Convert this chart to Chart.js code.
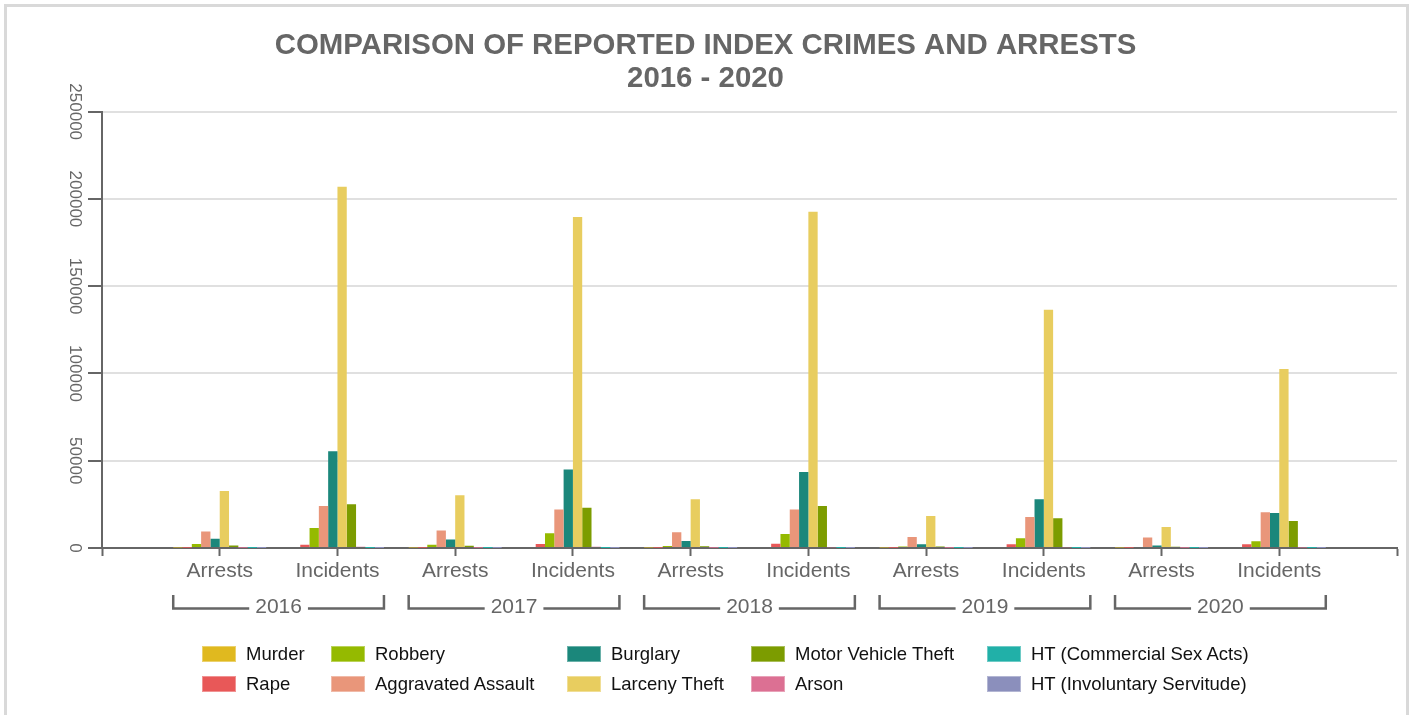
<!DOCTYPE html>
<html>
<head>
<meta charset="utf-8">
<script src="https://cdn.jsdelivr.net/npm/chart.js@4.4.1/dist/chart.umd.min.js"></script>
<style>
  html, body { margin: 0; padding: 0; background: #fff; overflow: hidden; }
  #wrap { position: relative; width: 1411px; height: 715px; }
  #frame { position: absolute; left: 4px; top: 4px; width: 1399px; height: 760px; border: 3px solid #d9d9d9; }
  #chart { position: absolute; left: 0; top: 0; display: block; }
  #legend {
    position: absolute; left: 202px; top: 646px;
    display: grid; grid-auto-flow: column;
    grid-template-rows: 16px 16px; row-gap: 14px;
    grid-template-columns: 129px 236px 184px 236px auto;
    font-family: "Liberation Sans", Arial, sans-serif; font-size: 18.5px; color: #111;
  }
  #legend .item { display: flex; align-items: center; white-space: nowrap; line-height: 16px; }
  #legend .box { width: 34px; height: 16px; margin-right: 10px; flex: none; box-sizing: border-box; border: 1px solid rgba(255,255,255,0.35); }
</style>
</head>
<body>
<div id="wrap">
  <div id="frame"></div>
  <canvas id="chart" width="1411" height="715"></canvas>
  <div id="legend"></div>
</div>
<script>
// categories: each year has an Arrests and an Incidents bar group
const years = ["2016", "2017", "2018", "2019", "2020"];
const kinds = ["Arrests", "Incidents"];
const yTicks = [0, 50000, 100000, 150000, 200000, 250000];

// values per crime, order: 2016 A, 2016 I, 2017 A, 2017 I, ... 2020 A, 2020 I
const murder     = [300, 600, 300, 600, 300, 600, 250, 550, 250, 600];
const rape       = [200, 1900, 200, 2300, 200, 2400, 150, 2100, 150, 2200];
const robbery    = [2300, 11500, 1900, 8500, 1200, 8000, 900, 5600, 600, 3800];
const aggAssault = [9500, 24000, 10000, 22000, 9000, 22000, 6300, 17800, 6000, 20500];
const burglary   = [5300, 55500, 4800, 45000, 4000, 43500, 2100, 28000, 1500, 20000];
const larceny    = [32700, 207000, 30200, 189700, 28000, 192600, 18300, 136500, 12000, 102500];
const mvTheft    = [1500, 25000, 1300, 23000, 1000, 24000, 800, 17000, 700, 15500];
const arson      = [100, 700, 100, 700, 100, 400, 80, 400, 80, 300];
const htSex      = [20, 40, 20, 40, 20, 40, 20, 40, 20, 40];
const htServ     = [5, 10, 5, 10, 5, 10, 5, 10, 5, 10];

const series = [
  { name: "Murder", values: murder, color: "#e0b91f" },
  { name: "Rape", values: rape, color: "#e85858" },
  { name: "Robbery", values: robbery, color: "#95ba00" },
  { name: "Aggravated Assault", values: aggAssault, color: "#e9967a" },
  { name: "Burglary", values: burglary, color: "#1b877b" },
  { name: "Larceny Theft", values: larceny, color: "#e8cd5f" },
  { name: "Motor Vehicle Theft", values: mvTheft, color: "#7c9c00" },
  { name: "Arson", values: arson, color: "#dc7093" },
  { name: "HT (Commercial Sex Acts)", values: htSex, color: "#21b0a8" },
  { name: "HT (Involuntary Servitude)", values: htServ, color: "#8b8fbc" }
];

// empty slot at each end, like the original axis
const labels = [""];
years.forEach(() => kinds.forEach(k => labels.push(k)));
labels.push("");

const CAT_PCT = 0.79;
const FONT = '"Liberation Sans", Arial, sans-serif';

// rotated y tick labels (read top to bottom)
const yLabelPlugin = {
  id: "yLabels",
  afterDraw(chart) {
    const ctx = chart.ctx;
    const y = chart.scales.y;
    ctx.save();
    ctx.fillStyle = "#666";
    ctx.font = "17px " + FONT;
    ctx.textAlign = "center";
    ctx.textBaseline = "middle";
    yTicks.forEach(v => {
      const py = y.getPixelForValue(v);
      ctx.save();
      ctx.translate(75, py);
      ctx.rotate(Math.PI / 2);
      ctx.fillText(String(v), 0, 0);
      ctx.restore();
    });
    ctx.restore();
  }
};

// year row with brackets under each Arrests/Incidents pair
const yearPlugin = {
  id: "yearBrackets",
  afterDraw(chart) {
    const ctx = chart.ctx;
    const x = chart.scales.x;
    const base = chart.chartArea.bottom;
    const step = x.getPixelForValue(2) - x.getPixelForValue(1);
    const half = step * CAT_PCT / 2;
    const top = base + 47, lineY = base + 60.5, textY = base + 59;
    ctx.save();
    ctx.font = "21px " + FONT;
    ctx.fillStyle = "#666";
    ctx.strokeStyle = "#666";
    ctx.lineWidth = 2.5;
    ctx.textAlign = "center";
    ctx.textBaseline = "middle";
    years.forEach((yr, i) => {
      const a = x.getPixelForValue(1 + i * 2);
      const b = x.getPixelForValue(2 + i * 2);
      const mid = (a + b) / 2;
      const tw = ctx.measureText(yr).width;
      ctx.beginPath();
      ctx.moveTo(a - half, top);
      ctx.lineTo(a - half, lineY);
      ctx.lineTo(mid - tw / 2 - 6, lineY);
      ctx.moveTo(mid + tw / 2 + 6, lineY);
      ctx.lineTo(b + half, lineY);
      ctx.lineTo(b + half, top);
      ctx.stroke();
      ctx.fillText(yr, mid, textY);
    });
    ctx.restore();
  }
};

const ctx = document.getElementById("chart").getContext("2d");
new Chart(ctx, {
  type: "bar",
  data: {
    labels: labels,
    datasets: series.map(s => ({
      label: s.name,
      data: [null, ...s.values, null],
      backgroundColor: s.color,
      borderWidth: 0
    }))
  },
  options: {
    responsive: false,
    animation: false,
    devicePixelRatio: 1,
    layout: { padding: { top: 8, right: 0, bottom: 0, left: 0 } },
    datasets: { bar: { categoryPercentage: CAT_PCT, barPercentage: 1.0 } },
    plugins: {
      legend: { display: false },
      tooltip: { enabled: false },
      title: {
        display: true,
        text: ["COMPARISON OF REPORTED INDEX CRIMES AND ARRESTS", "2016 - 2020"],
        color: "#666",
        font: { family: FONT, size: 29.4, weight: "bold", lineHeight: 1.1 },
        padding: { top: 22, bottom: 17 }
      }
    },
    scales: {
      x: {
        offset: false,
        grid: { offset: false, drawOnChartArea: false, tickColor: "#666", tickLength: 8, tickWidth: 2 },
        border: { color: "#666", width: 2 },
        ticks: { autoSkip: false, maxRotation: 0, color: "#666", padding: 3, font: { family: FONT, size: 21 } },
        afterFit(scale) { scale.height = 167; }
      },
      y: {
        min: 0,
        max: 250000,
        ticks: { stepSize: 50000, display: false },
        grid: { color: "#e0e0e0", lineWidth: 2, tickColor: "#666", tickLength: 14, tickWidth: 2 },
        border: { color: "#666", width: 2 },
        afterFit(scale) { scale.width = 102; }
      },
      // empty right margin so the title stays centred on the whole canvas
      yRight: {
        type: "linear",
        position: "right",
        display: true,
        grid: { display: false },
        border: { display: false },
        ticks: { display: false },
        afterFit(scale) { scale.width = 14; }
      }
    }
  },
  plugins: [yLabelPlugin, yearPlugin]
});

// legend laid out in columns, as in the original
const legend = document.getElementById("legend");
series.forEach(s => {
  const item = document.createElement("div");
  item.className = "item";
  const box = document.createElement("span");
  box.className = "box";
  box.style.background = s.color;
  const txt = document.createElement("span");
  txt.textContent = s.name;
  item.appendChild(box);
  item.appendChild(txt);
  legend.appendChild(item);
});
</script>
</body>
</html>
